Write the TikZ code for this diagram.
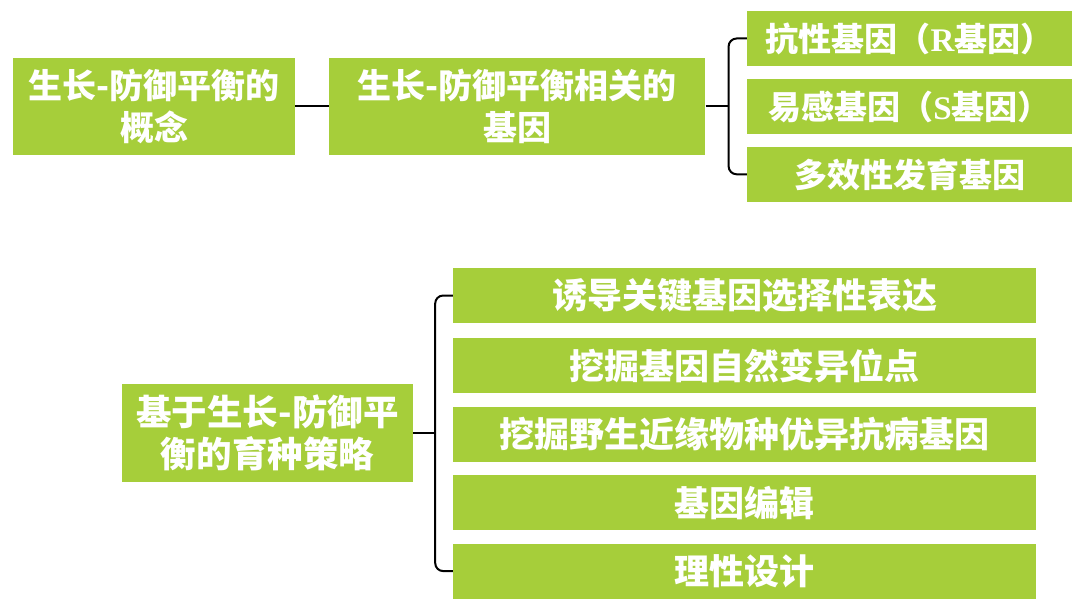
\documentclass[tikz,border=0pt]{standalone}
\usepackage{fontspec}
\usepackage{tikz}
\usetikzlibrary{positioning, calc}
\newfontfamily\cjk{Noto Sans CJK SC}
\newfontfamily\latin{Liberation Serif}
\definecolor{leaf}{HTML}{A6CE3A}
\tikzset{
  topbox/.style={
    rectangle, fill=leaf, text=white,
    minimum height=97bp, inner sep=0pt,
    align=center, font=\cjk\bfseries\fontsize{34bp}{42bp}\selectfont,
  },
  genebox/.style={
    rectangle, fill=leaf, text=white,
    minimum width=325bp, minimum height=55bp, inner sep=0pt,
    font=\cjk\bfseries\fontsize{33bp}{40bp}\selectfont,
  },
  waybox/.style={
    rectangle, fill=leaf, text=white,
    minimum width=583bp, minimum height=55bp, inner sep=0pt,
    font=\cjk\bfseries\fontsize{35bp}{42bp}\selectfont,
  },
  link/.style={line width=2bp, color=black},
  fork/.style={link, rounded corners=8bp},
}

\begin{document}
\begin{tikzpicture}[x=1bp, y=-1bp]
  \useasboundingbox (0,0) rectangle (1080,607);

  % upper tree
  \node[topbox, minimum width=282bp] (concept) at (154,106.5) {生长-防御平衡的\\概念};
  \node[topbox, minimum width=376bp, right=34bp of concept] (genes) {生长-防御平衡相关的\\基因};

  \node[genebox] (rgene) at (909.5,38.5) {抗性基因（{\latin\bfseries R}基因）};
  \node[genebox, below=13bp of rgene] (sgene) {易感基因（{\latin\bfseries S}基因）};
  \node[genebox, below=12bp of sgene] (pgene) {多效性发育基因};

  \coordinate[right=23bp of genes] (forkA);
  \draw[link] (concept) -- (genes);
  \draw[link] (genes) -- (forkA);
  \draw[fork] (rgene.west) -| (forkA) |- (pgene.west);

  % lower tree
  \node[topbox, minimum width=291bp, minimum height=98bp,
        font=\cjk\bfseries\fontsize{35.5bp}{42bp}\selectfont] (breed) at (267.5,433) {基于生长-防御平\\衡的育种策略};

  \node[waybox] (induce) at (744.5,295.5) {诱导关键基因选择性表达};
  \node[waybox, below=15bp of induce] (mine) {挖掘基因自然变异位点};
  \node[waybox, below=13bp of mine] (wild) {挖掘野生近缘物种优异抗病基因};
  \node[waybox, below=13bp of wild] (edit) {基因编辑};
  \node[waybox, below=13bp of edit] (design) {理性设计};

  \coordinate[right=22bp of breed] (forkB);
  \draw[link] (breed) -- (forkB);
  \draw[fork] (induce.west) -| (forkB) |- (design.west);

\end{tikzpicture}
\end{document}
